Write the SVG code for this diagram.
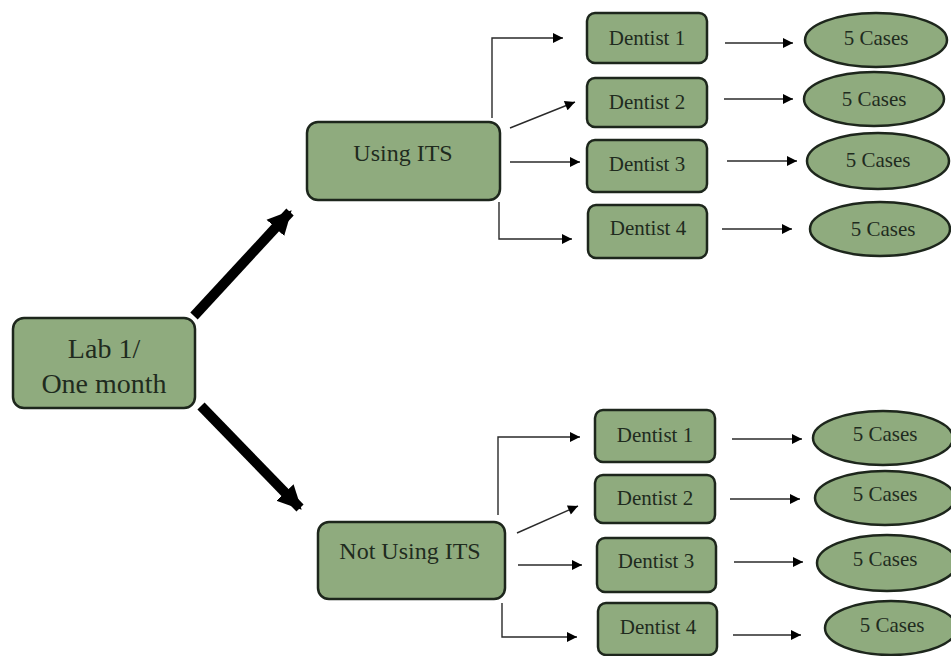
<svg xmlns="http://www.w3.org/2000/svg" width="951" height="656" viewBox="0 0 951 656">
<defs>
<style>
.n{fill:#8fab7e;stroke:#1d261c;stroke-width:2.5}
.t{font-family:"Liberation Serif","Times New Roman",serif;fill:#1f2b1e;text-anchor:middle}
.s{font-size:21px}
.c{stroke:#2a2a2a;stroke-width:1.4;fill:none}
.k{stroke:#000;stroke-width:10;fill:none}
</style>
<marker id="a" viewBox="0 0 10 10" refX="10" refY="5" markerWidth="11" markerHeight="10" markerUnits="userSpaceOnUse" orient="auto"><path d="M0,0 L10,5 L0,10 Z" fill="#000"/></marker>
<marker id="b" viewBox="0 0 10 10" refX="9" refY="5" markerWidth="2.4" markerHeight="2.6" orient="auto"><path d="M0,0 L10,5 L0,10 Z" fill="#000"/></marker>
</defs>
<rect width="951" height="656" fill="#fff"/>
<g id="connectors">
<path class="k" d="M194,316 L290,212" marker-end="url(#b)"/>
<path class="k" d="M201,406 L300,508" marker-end="url(#b)"/>
<path class="c" d="M492,118 V38 H563" marker-end="url(#a)"/>
<path class="c" d="M510,128 L575,102" marker-end="url(#a)"/>
<path class="c" d="M510,162 H580" marker-end="url(#a)"/>
<path class="c" d="M499,202 V239 H572" marker-end="url(#a)"/>
<path class="c" d="M725,43 H793" marker-end="url(#a)"/>
<path class="c" d="M724,99 H793" marker-end="url(#a)"/>
<path class="c" d="M727,161 H797" marker-end="url(#a)"/>
<path class="c" d="M722,229 H792" marker-end="url(#a)"/>
<path class="c" d="M498,515 V437 H580" marker-end="url(#a)"/>
<path class="c" d="M517,533 L578,506" marker-end="url(#a)"/>
<path class="c" d="M518,565 H582" marker-end="url(#a)"/>
<path class="c" d="M502,603 V637 H577" marker-end="url(#a)"/>
<path class="c" d="M732,439 H802" marker-end="url(#a)"/>
<path class="c" d="M730,499 H800" marker-end="url(#a)"/>
<path class="c" d="M734,562 H803" marker-end="url(#a)"/>
<path class="c" d="M733,635 H801" marker-end="url(#a)"/>
</g>
<g id="lab"><rect class="n" x="13" y="318" width="182" height="90" rx="11"/><text class="t" x="104" y="358" font-size="28">Lab 1/</text><text class="t" x="104" y="393" font-size="28">One month</text></g>
<g id="using"><rect class="n" x="307" y="122" width="193" height="78" rx="11"/><text class="t" x="403" y="161" font-size="24">Using ITS</text></g>
<g id="notusing"><rect class="n" x="318" y="522" width="187" height="77" rx="11"/><text class="t" x="410" y="559" font-size="24">Not Using ITS</text></g>
<g id="u-d1"><rect class="n" x="587" y="13" width="120" height="50" rx="8"/><text class="t s" x="647" y="45">Dentist 1</text></g>
<g id="u-d2"><rect class="n" x="587" y="78" width="120" height="49" rx="8"/><text class="t s" x="647" y="109">Dentist 2</text></g>
<g id="u-d3"><rect class="n" x="587" y="140" width="120" height="52" rx="8"/><text class="t s" x="647" y="171">Dentist 3</text></g>
<g id="u-d4"><rect class="n" x="588" y="205" width="119" height="53" rx="8"/><text class="t s" x="648" y="235">Dentist 4</text></g>
<g id="u-c1"><ellipse class="n" cx="876" cy="40" rx="71" ry="27"/><text class="t s" x="876" y="45">5 Cases</text></g>
<g id="u-c2"><ellipse class="n" cx="874" cy="99" rx="70" ry="27"/><text class="t s" x="874" y="106">5 Cases</text></g>
<g id="u-c3"><ellipse class="n" cx="878" cy="161" rx="71" ry="28"/><text class="t s" x="878" y="167">5 Cases</text></g>
<g id="u-c4"><ellipse class="n" cx="880" cy="229" rx="70" ry="27"/><text class="t s" x="883" y="236">5 Cases</text></g>
<g id="l-d1"><rect class="n" x="595" y="410" width="120" height="52" rx="8"/><text class="t s" x="655" y="442">Dentist 1</text></g>
<g id="l-d2"><rect class="n" x="595" y="475" width="120" height="48" rx="8"/><text class="t s" x="655" y="505">Dentist 2</text></g>
<g id="l-d3"><rect class="n" x="597" y="538" width="119" height="54" rx="8"/><text class="t s" x="656" y="568">Dentist 3</text></g>
<g id="l-d4"><rect class="n" x="598" y="603" width="119" height="52" rx="8"/><text class="t s" x="658" y="634">Dentist 4</text></g>
<g id="l-c1"><ellipse class="n" cx="883" cy="438" rx="70" ry="27"/><text class="t s" x="885" y="441">5 Cases</text></g>
<g id="l-c2"><ellipse class="n" cx="885" cy="498" rx="70" ry="27"/><text class="t s" x="885" y="501">5 Cases</text></g>
<g id="l-c3"><ellipse class="n" cx="887" cy="563" rx="70" ry="28"/><text class="t s" x="885" y="566">5 Cases</text></g>
<g id="l-c4"><ellipse class="n" cx="891" cy="628" rx="66" ry="27"/><text class="t s" x="892" y="632">5 Cases</text></g>
</svg>
